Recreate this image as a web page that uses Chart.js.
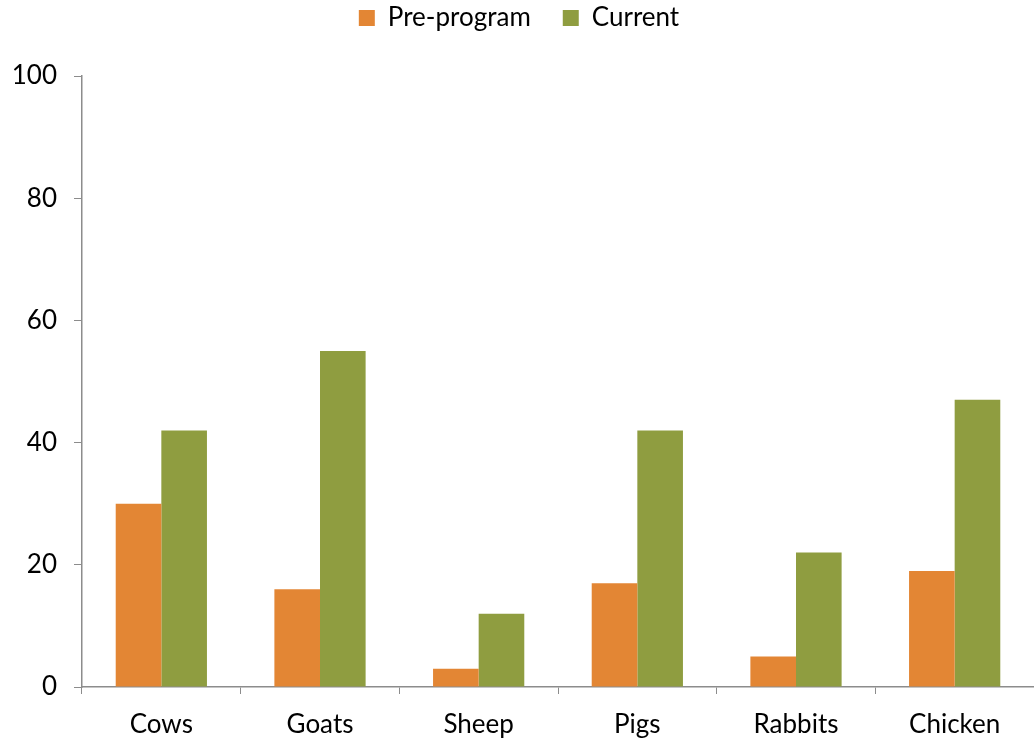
<!DOCTYPE html>
<html>
<head>
<meta charset="utf-8">
<script src="https://cdn.jsdelivr.net/npm/chart.js@4"></script>
<style>
  html, body { margin: 0; padding: 0; background: #ffffff; }
  #wrap { width: 1034px; height: 744px; }
</style>
</head>
<body>
<div id="wrap"><canvas id="animalChart"></canvas></div>
<script>
  const categories = ["Cows", "Goats", "Sheep", "Pigs", "Rabbits", "Chicken"];
  const preProgram = [30, 16, 3, 17, 5, 19];
  const current = [42, 55, 12, 42, 22, 47];
  const yTicks = [0, 20, 40, 60, 80, 100];

  const FONT = "Lato, 'Open Sans', sans-serif";
  const axisGray = "#8c8c8c";

  // give the legend some extra room underneath so the plot starts lower
  const legendSpacer = {
    id: "legendSpacer",
    beforeInit(chart) {
      const origFit = chart.legend.fit;
      chart.legend.fit = function () {
        origFit.call(this);
        this.height += 35;
      };
    },
  };

  const ctx = document.getElementById("animalChart").getContext("2d");

  new Chart(ctx, {
    type: "bar",
    data: {
      labels: categories,
      datasets: [
        {
          label: "Pre-program",
          data: preProgram,
          backgroundColor: "#e38634",
          borderWidth: 0,
        },
        {
          label: "Current",
          data: current,
          backgroundColor: "#8f9d40",
          borderWidth: 0,
        },
      ],
    },
    plugins: [legendSpacer],
    options: {
      responsive: true,
      maintainAspectRatio: false,
      animation: false,
      layout: { padding: { top: -27, right: -4, left: 0, bottom: 0 } },
      datasets: {
        bar: { categoryPercentage: 0.575, barPercentage: 1.0 },
      },
      plugins: {
        legend: {
          position: "top",
          labels: {
            color: "#000000",
            boxWidth: 16,
            boxHeight: 16,
            padding: 32,
            font: { size: 26, family: FONT },
          },
        },
        tooltip: { enabled: false },
      },
      scales: {
        x: {
          offset: true,
          grid: {
            display: true,
            offset: true,
            drawOnChartArea: false,
            tickLength: 7,
            tickColor: axisGray,
          },
          border: { display: true, color: axisGray, width: 1.5 },
          ticks: {
            color: "#000000",
            padding: 15,
            font: { size: 26, family: FONT },
          },
          afterFit: (scale) => { scale.height = 57; },
        },
        y: {
          min: 0,
          max: 100,
          afterBuildTicks: (scale) => {
            scale.ticks = yTicks.map((v) => ({ value: v }));
          },
          grid: {
            display: true,
            drawOnChartArea: false,
            tickLength: 8,
            tickColor: axisGray,
          },
          border: { display: true, color: axisGray, width: 1.5 },
          ticks: {
            color: "#000000",
            padding: 17,
            font: { size: 26, family: FONT },
          },
          afterFit: (scale) => { scale.width = 82; },
        },
      },
    },
  });
</script>
</body>
</html>
